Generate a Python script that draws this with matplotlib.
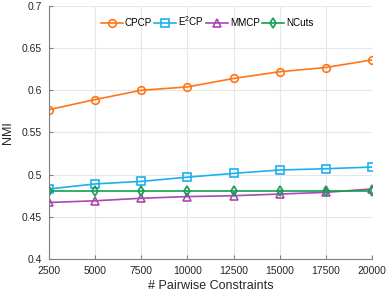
import matplotlib
matplotlib.use('Agg')
import matplotlib.pyplot as plt

constraints = [2500, 5000, 7500, 10000, 12500, 15000, 17500, 20000]
cpcp = [0.577, 0.589, 0.600, 0.604, 0.614, 0.622, 0.627, 0.636]
e2cp = [0.483, 0.489, 0.492, 0.497, 0.5015, 0.5055, 0.507, 0.509]
mmcp = [0.467, 0.469, 0.472, 0.474, 0.475, 0.477, 0.479, 0.483]
ncuts = [0.481, 0.481, 0.481, 0.481, 0.481, 0.481, 0.481, 0.481]
yticks = [0.4, 0.45, 0.5, 0.55, 0.6, 0.65, 0.7]
ytick_labels = ['0.4', '0.45', '0.5', '0.55', '0.6', '0.65', '0.7']

plt.rcParams['font.family'] = ['Liberation Sans', 'DejaVu Sans']
plt.rcParams['mathtext.fontset'] = 'custom'
plt.rcParams['mathtext.rm'] = 'Liberation Sans'

fig = plt.figure(figsize=(3.9, 2.96), dpi=100)
ax = fig.add_axes([0.1256, 0.125, 0.828, 0.855])

ms = 5.5
kw = dict(lw=1.2, ms=ms, mfc='none', mew=1.2)
ax.plot(constraints, cpcp, '-o', color='#FF7518', label='CPCP', **kw)
ax.plot(constraints, e2cp, '-s', color='#1CB0F0', label='E$^\\mathrm{2}$CP', **kw)
ax.plot(constraints, mmcp, '-^', color='#A848B0', label='MMCP', **kw)
ax.plot(constraints, ncuts, '-d', color='#14A050', label='NCuts', **kw)

ax.set_xlim(2500, 20000)
ax.set_ylim(0.4, 0.7)
ax.set_xticks(constraints)
ax.set_xticklabels([str(c) for c in constraints])
ax.set_yticks(yticks)
ax.set_yticklabels(ytick_labels)
ax.grid(True, color='#e6e6e6', lw=0.8)
ax.set_axisbelow(True)
for s in ['top', 'right']:
    ax.spines[s].set_visible(False)
for s in ['left', 'bottom']:
    ax.spines[s].set_color('#808080')
ax.tick_params(direction='in', length=3, labelsize=7.5, colors='#262626', color='#808080')
ax.tick_params(axis='x', pad=5)
ax.tick_params(axis='y', pad=5)
ax.set_xlabel('# Pairwise Constraints', fontsize=9, color='#262626', labelpad=3)
ax.set_ylabel('NMI', fontsize=9, color='#262626', labelpad=6)

leg = ax.legend(loc='upper center', ncol=4, frameon=False, fontsize=7.1,
                bbox_to_anchor=(0.49, 1.0), handlelength=2.2, handletextpad=0.2,
                columnspacing=0.25, borderaxespad=0.45)

fig.savefig('out.png', dpi=100)
